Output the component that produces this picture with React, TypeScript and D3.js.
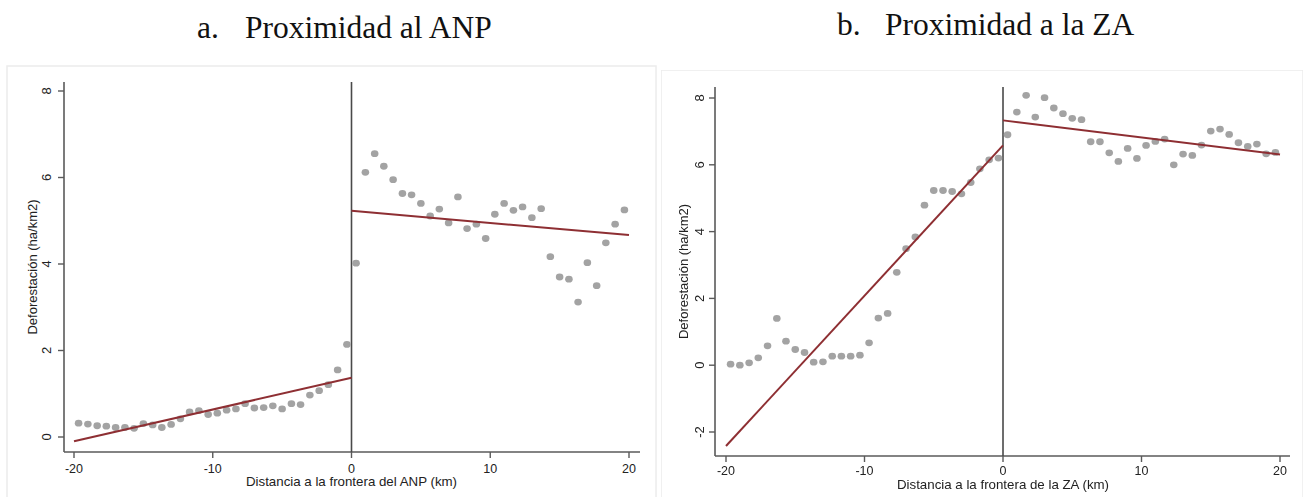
import React from 'react';
import * as d3 from 'd3';

// bin centres (km from the border), same for both panels
const binsNeg = [-19.67, -19.0, -18.33, -17.67, -17.0, -16.33, -15.67, -15.0, -14.33, -13.67,
  -13.0, -12.33, -11.67, -11.0, -10.33, -9.67, -9.0, -8.33, -7.67, -7.0,
  -6.33, -5.67, -5.0, -4.33, -3.67, -3.0, -2.33, -1.67, -1.0, -0.33];
const binsPos = [0.33, 1.0, 1.67, 2.33, 3.0, 3.67, 4.33, 5.0, 5.67, 6.33,
  7.0, 7.67, 8.33, 9.0, 9.67, 10.33, 11.0, 11.67, 12.33, 13.0,
  13.67, 14.33, 15.0, 15.67, 16.33, 17.0, 17.67, 18.33, 19.0, 19.67];

// a. ANP
const anpNeg = [0.32, 0.30, 0.26, 0.25, 0.22, 0.22, 0.20, 0.31, 0.28, 0.22,
  0.29, 0.42, 0.58, 0.61, 0.52, 0.55, 0.62, 0.65, 0.77, 0.67,
  0.68, 0.72, 0.65, 0.77, 0.75, 0.97, 1.07, 1.21, 1.55, 2.14];
const anpPos = [4.02, 6.12, 6.55, 6.26, 5.95, 5.63, 5.60, 5.40, 5.11, 5.27,
  4.95, 5.55, 4.82, 4.92, 4.59, 5.15, 5.40, 5.24, 5.32, 5.07,
  5.28, 4.17, 3.70, 3.65, 3.12, 4.03, 3.50, 4.49, 4.92, 5.25];
const anpFitNeg: [number, number][] = [[-20, -0.1], [0, 1.37]];
const anpFitPos: [number, number][] = [[0, 5.23], [20, 4.67]];

// b. ZA
const zaNeg = [0.03, 0.0, 0.07, 0.22, 0.58, 1.40, 0.72, 0.47, 0.38, 0.09,
  0.10, 0.27, 0.27, 0.27, 0.30, 0.67, 1.41, 1.55, 2.78, 3.49,
  3.84, 4.79, 5.23, 5.23, 5.20, 5.13, 5.47, 5.88, 6.15, 6.20];
const zaPos = [6.90, 7.58, 8.08, 7.43, 8.01, 7.70, 7.53, 7.39, 7.35, 6.69,
  6.69, 6.36, 6.10, 6.49, 6.19, 6.58, 6.70, 6.77, 6.00, 6.32,
  6.28, 6.59, 7.01, 7.07, 6.91, 6.66, 6.55, 6.62, 6.33, 6.37];
const zaFitNeg: [number, number][] = [[-20, -2.42], [0, 6.58]];
const zaFitPos: [number, number][] = [[0, 7.33], [20, 6.31]];

const xTicks = [-20, -10, 0, 10, 20];
const anpYTicks = [0, 2, 4, 6, 8];
const zaYTicks = [-2, 0, 2, 4, 6, 8];

const GREY = '#a3a3a3';
const FIT = '#8e2f33';
const AXIS = '#5a5a5a';
const SANS = 'Arial, "Liberation Sans", sans-serif';
const SERIF = '"Times New Roman", "Liberation Serif", serif';

type PanelProps = {
  neg: number[];
  pos: number[];
  fitNeg: [number, number][];
  fitPos: [number, number][];
  yTicks: number[];
  yDomain: [number, number];
  xRange: [number, number];
  yRange: [number, number];
  axisX: number;
  axisY: number;
  axisTop: number;
  axisRight: number;
  xTickY: number;
  xTitleY: number;
  yTickX: number;
  yTitleX: number;
  xTitle: string;
  frame: [number, number, number, number];
  blur?: boolean;
};

function Panel(p: PanelProps) {
  const x = d3.scaleLinear().domain([-20, 20]).range(p.xRange);
  const y = d3.scaleLinear().domain(p.yDomain).range(p.yRange);
  const line = d3.line<[number, number]>().x(d => x(d[0])).y(d => y(d[1]));
  const pts = [
    ...binsNeg.map((b, i) => [b, p.neg[i]]),
    ...binsPos.map((b, i) => [b, p.pos[i]]),
  ];
  const yMid = (p.axisTop + p.axisY) / 2;
  return (
    <g filter={p.blur ? 'url(#soft)' : undefined}>
      <rect x={p.frame[0]} y={p.frame[1]} width={p.frame[2]} height={p.frame[3]}
        fill="none" stroke="#ececec" strokeWidth={1.5} />
      {/* axes */}
      <line x1={p.axisX} x2={p.axisX} y1={p.axisTop} y2={p.axisY} stroke={AXIS} strokeWidth={1.6} />
      <line x1={p.axisX} x2={p.axisRight} y1={p.axisY} y2={p.axisY} stroke={AXIS} strokeWidth={1.6} />
      {p.yTicks.map(t => (
        <g key={'y' + t}>
          <line x1={p.axisX - 6} x2={p.axisX} y1={y(t)} y2={y(t)} stroke={AXIS} strokeWidth={1.4} />
          <text transform={`translate(${p.yTickX},${y(t)}) rotate(-90)`} textAnchor="middle"
            fontFamily={SANS} fontSize={13} fill="#222">{t}</text>
        </g>
      ))}
      {xTicks.map(t => (
        <g key={'x' + t}>
          <line x1={x(t)} x2={x(t)} y1={p.axisY} y2={p.axisY + 6} stroke={AXIS} strokeWidth={1.4} />
          <text x={x(t)} y={p.xTickY} textAnchor="middle" fontFamily={SANS} fontSize={12.5} fill="#222">{t}</text>
        </g>
      ))}
      <text x={x(0)} y={p.xTitleY} textAnchor="middle" fontFamily={SANS} fontSize={13.3} fill="#222">{p.xTitle}</text>
      <text transform={`translate(${p.yTitleX},${yMid}) rotate(-90)`} textAnchor="middle"
        fontFamily={SANS} fontSize={13} fill="#222">Deforestación (ha/km2)</text>
      {/* cutoff */}
      <line x1={x(0)} x2={x(0)} y1={p.axisTop} y2={p.axisY} stroke="#4a4a4a" strokeWidth={1.6} />
      {/* binned means */}
      {pts.map((d, i) => (
        <ellipse key={i} cx={x(d[0])} cy={y(d[1])} rx={3.8} ry={3.4} fill={GREY} />
      ))}
      {/* linear fits */}
      <path d={line(p.fitNeg) || ''} fill="none" stroke={FIT} strokeWidth={2} />
      <path d={line(p.fitPos) || ''} fill="none" stroke={FIT} strokeWidth={2} />
    </g>
  );
}

export default function App() {
  return (
    <svg width={1304} height={497} style={{ position: 'absolute', left: 0, top: 0, background: '#fff' }}>
      <defs>
        <filter id="soft" x="0" y="0" width="1" height="1">
          <feGaussianBlur stdDeviation={0.45} />
        </filter>
      </defs>
      <rect width={1304} height={497} fill="#fff" />
      <text x={197} y={38} fontFamily={SERIF} fontSize={31.5} fill="#111">a.</text>
      <text x={245} y={38} fontFamily={SERIF} fontSize={31.5} fill="#111">Proximidad al ANP</text>
      <text x={837} y={35} fontFamily={SERIF} fontSize={31.5} fill="#111">b.</text>
      <text x={885} y={35} fontFamily={SERIF} fontSize={31.5} fill="#111">Proximidad a la ZA</text>
      <Panel neg={anpNeg} pos={anpPos} fitNeg={anpFitNeg} fitPos={anpFitPos}
        yTicks={anpYTicks} yDomain={[0, 8]} xRange={[74, 629]} yRange={[437, 91]}
        axisX={64} axisY={452} axisTop={82} axisRight={640}
        xTickY={473} xTitleY={485.5} yTickX={51} yTitleX={37}
        xTitle="Distancia a la frontera del ANP (km)" frame={[7, 66, 649, 440]} />
      <Panel neg={zaNeg} pos={zaPos} fitNeg={zaFitNeg} fitPos={zaFitPos}
        yTicks={zaYTicks} yDomain={[-2, 8]} xRange={[726, 1280]} yRange={[432, 98]}
        axisX={715} axisY={456} axisTop={87} axisRight={1290}
        xTickY={475} xTitleY={488.5} yTickX={704} yTitleX={688}
        xTitle="Distancia a la frontera de la ZA (km)" frame={[661, 70, 642, 440]} blur />
    </svg>
  );
}
